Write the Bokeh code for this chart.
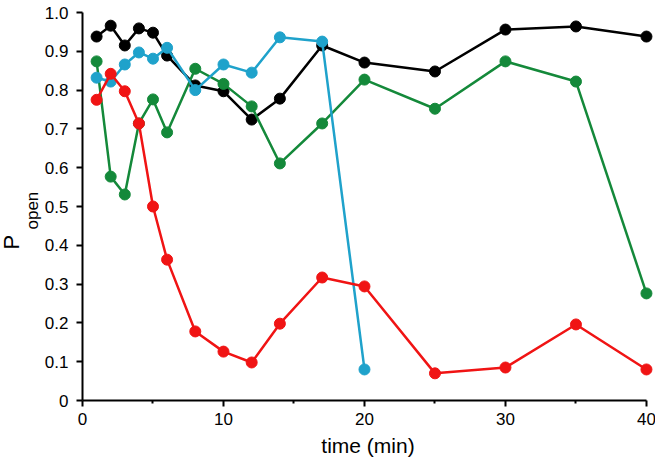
from bokeh.plotting import figure
from bokeh.models import Range1d, FixedTicker, Title
from bokeh.embed import file_html
from bokeh.resources import INLINE

# time points (min)
t_black = [1, 2, 3, 4, 5, 6, 8, 10, 12, 14, 17, 20, 25, 30, 35, 40]
p_black = [0.938, 0.966, 0.915, 0.959, 0.948, 0.889, 0.812, 0.797, 0.724, 0.778, 0.915, 0.871, 0.848, 0.956, 0.964, 0.938]

t_green = [1, 2, 3, 4, 5, 6, 8, 10, 12, 14, 17, 20, 25, 30, 35, 40]
p_green = [0.874, 0.577, 0.531, 0.714, 0.776, 0.691, 0.855, 0.816, 0.758, 0.611, 0.714, 0.827, 0.752, 0.874, 0.822, 0.276]

t_cyan = [1, 2, 3, 4, 5, 6, 8, 10, 12, 14, 17, 20]
p_cyan = [0.832, 0.822, 0.866, 0.897, 0.881, 0.909, 0.800, 0.866, 0.845, 0.936, 0.925, 0.080]

t_red = [1, 2, 3, 4, 5, 6, 8, 10, 12, 14, 17, 20, 25, 30, 35, 40]
p_red = [0.775, 0.842, 0.797, 0.714, 0.500, 0.363, 0.178, 0.126, 0.098, 0.198, 0.317, 0.294, 0.070, 0.085, 0.196, 0.080]

x_ticks = [0, 10, 20, 30, 40]
x_minor = [5, 15, 25, 35]
y_ticks = [0.0, 0.1, 0.2, 0.3, 0.4, 0.5, 0.6, 0.7, 0.8, 0.9, 1.0]
y_labels = ["0", "0.1", "0.2", "0.3", "0.4", "0.5", "0.6", "0.7", "0.8", "0.9", "1.0"]

series = [
    (t_black, p_black, "#000000"),
    (t_green, p_green, "#14893a"),
    (t_cyan, p_cyan, "#1fa2cb"),
    (t_red, p_red, "#f01414"),
]

FONT = "Liberation Sans"

p = figure(frame_width=571, frame_height=388, output_backend="svg", toolbar_location=None,
           x_range=Range1d(0, 40.5), y_range=Range1d(0, 1.0),
           min_border_left=81, min_border_top=12, min_border_right=3, min_border_bottom=64)
p.outline_line_color = None
p.xgrid.visible = False
p.ygrid.visible = False
p.background_fill_color = "white"
p.border_fill_color = "white"

for xs, ys, c in series:
    p.line(xs, ys, line_color=c, line_width=2.5)
    p.scatter(xs, ys, size=11, fill_color=c, line_color=c)

xa = p.xaxis[0]
xa.ticker = FixedTicker(ticks=x_ticks, minor_ticks=x_minor)
xa.bounds = (0, 40)
xa.axis_label = "time (min)"
xa.axis_label_text_font = FONT
xa.axis_label_text_font_size = "21px"
xa.axis_label_text_font_style = "normal"
xa.axis_label_text_color = "black"
xa.axis_label_standoff = 6
xa.major_label_text_font = FONT
xa.major_label_text_font_size = "17px"
xa.major_label_standoff = 6

ya = p.yaxis[0]
ya.ticker = FixedTicker(ticks=y_ticks)
ya.major_label_overrides = {t: l for t, l in zip(y_ticks, y_labels)}
ya.major_label_text_font = FONT
ya.major_label_text_font_size = "17px"
ya.major_label_standoff = 8

for ax in (xa, ya):
    ax.axis_line_width = 2
    ax.major_tick_line_width = 2
    ax.minor_tick_line_width = 2
    ax.major_tick_out = 6
    ax.major_tick_in = 0
    ax.minor_tick_out = 3
    ax.minor_tick_in = 0
    ax.major_label_text_color = "black"
ya.minor_tick_line_color = None

# y-axis label "P" with subscript "open", as two side titles
t_open = Title(text="open", text_font=FONT, text_font_size="17px", text_font_style="normal",
               text_color="black", align="left", offset=171, standoff=0)
t_p = Title(text="P", text_font=FONT, text_font_size="22px", text_font_style="normal",
            text_color="black", align="left", offset=151, standoff=-7)
p.add_layout(t_open, "left")
p.add_layout(t_p, "left")

open("out.html", "w").write(file_html(p, INLINE))
